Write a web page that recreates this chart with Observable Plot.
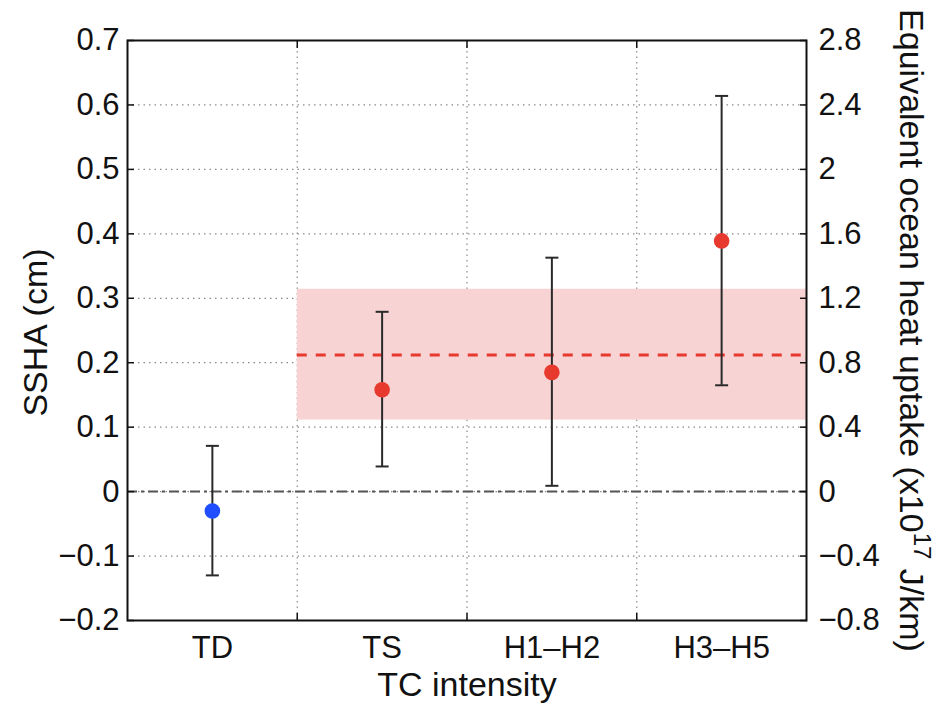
<!DOCTYPE html>
<html>
<head>
<meta charset="utf-8">
<script src="https://cdn.jsdelivr.net/npm/d3@7"></script>
<script src="https://cdn.jsdelivr.net/npm/@observablehq/plot@0.6"></script>
<style>
  body { margin: 0; background: #fff; }
  #chart svg { font-family: "Liberation Sans", Arial, Helvetica, sans-serif; }
</style>
</head>
<body>
<div id="chart"></div>
<script>
// TC intensity classes and their mean SSHA with error bounds (cm)
const categories = ["TD", "TS", "H1–H2", "H3–H5"];
const sshaMean = [-0.03, 0.158, 0.185, 0.389];
const sshaLow  = [-0.13, 0.039, 0.009, 0.165];
const sshaHigh = [0.071, 0.279, 0.363, 0.614];

// Mean over tropical storms and hurricanes, with its spread
const stormMean = 0.212;
const stormLow = 0.111;
const stormHigh = 0.314;

// Axis ticks: SSHA (left) and equivalent heat uptake (right, 4 x 10^17 J/km per cm)
const sshaTicks = [-0.2, -0.1, 0, 0.1, 0.2, 0.3, 0.4, 0.5, 0.6, 0.7];
const heatTicks = [-0.8, -0.4, 0, 0.4, 0.8, 1.2, 1.6, 2, 2.4, 2.8];
const heatPerCm = 4;

const xLabel = "TC intensity";
const yLabel = "SSHA (cm)";
const y2Main = "Equivalent ocean heat uptake (x10";
const y2Exp = "17";
const y2Unit = " J/km)";

const rows = categories.map((c, i) => ({
  category: c, pos: i + 1, mean: sshaMean[i], low: sshaLow[i], high: sshaHigh[i]
}));
const bounds = categories.slice(1).map((c, i) => i + 1.5);
const stormStart = categories.indexOf("TS") + 0.5;
const stormEnd = categories.length + 0.5;

const minus = s => s.replace("-", "\u2212");
const fmtCm = d => minus(Math.abs(d) < 1e-9 ? "0" : d.toFixed(1));
const fmtHeat = d => minus(String(Math.round(d * heatPerCm * 10) / 10));

const cap = { draw(ctx) { ctx.moveTo(-6.5, 0); ctx.lineTo(6.5, 0); } };

const blue = "#1f4dff", red = "#e8392f";
const tickFont = 31, labelFont = 34;

const plot = Plot.plot({
  width: 944,
  height: 703,
  marginLeft: 127,
  marginRight: 138,
  marginTop: 40,
  marginBottom: 83,
  x: { type: "linear", domain: [0.5, categories.length + 0.5] },
  y: { domain: [-0.2, 0.7] },
  style: { fontFamily: "'Liberation Sans', Arial, Helvetica, sans-serif", color: "#111", background: "#fff" },
  marks: [
    // dotted grid
    Plot.gridY(sshaTicks.slice(1, -1), { stroke: "#8a8a8a", strokeOpacity: 1, strokeWidth: 1.2, strokeDasharray: "1.5,4" }),
    Plot.gridX(bounds, { stroke: "#8a8a8a", strokeOpacity: 1, strokeWidth: 1.2, strokeDasharray: "1.5,4" }),
    // storm spread band and mean
    Plot.rect([stormMean], { x1: stormStart, x2: stormEnd, y1: stormLow, y2: stormHigh, fill: "#f7d3d3" }),
    Plot.ruleY([0], { stroke: "#555", strokeWidth: 2, strokeDasharray: "10,4,3,4" }),
    Plot.ruleY([stormMean], { x1: stormStart, x2: stormEnd, stroke: red, strokeWidth: 3, strokeDasharray: "10,9" }),
    // error bars
    Plot.ruleX(rows, { x: "pos", y1: "low", y2: "high", stroke: "#2a2a2a", strokeWidth: 2 }),
    Plot.dot(rows, { x: "pos", y: "low", symbol: cap, fill: "none", stroke: "#2a2a2a", strokeWidth: 2 }),
    Plot.dot(rows, { x: "pos", y: "high", symbol: cap, fill: "none", stroke: "#2a2a2a", strokeWidth: 2 }),
    // means
    Plot.dot(rows, { x: "pos", y: "mean", r: 7.8, fill: d => d.category === "TD" ? blue : red, stroke: "none" }),
    // frame and axes
    Plot.frame({ stroke: "#111", strokeWidth: 2 }),
    Plot.axisY(sshaTicks, { anchor: "left", tickSize: -7, tickPadding: 15, tickFormat: fmtCm, fontSize: tickFont, label: null, strokeWidth: 1.5 }),
    Plot.axisY(heatTicks.map(v => v / heatPerCm), { anchor: "right", tickSize: -7, tickPadding: 19, tickFormat: fmtHeat, fontSize: tickFont, label: null, strokeWidth: 1.5 }),
    Plot.axisX(bounds, { anchor: "bottom", tickSize: -7, tickFormat: () => "", label: null, strokeWidth: 1.5 }),
    Plot.axisX(bounds, { anchor: "top", tickSize: -7, tickFormat: () => "", label: null, strokeWidth: 1.5 }),
    Plot.axisX(rows.map(d => d.pos), { anchor: "bottom", tickSize: 0, tickPadding: 15, tickFormat: d => categories[d - 1], fontSize: tickFont, label: null }),
    // axis titles
    Plot.text([xLabel], { text: d => d, frameAnchor: "bottom", dy: 65, textAnchor: "middle", lineAnchor: "middle", fontSize: labelFont, fill: "#111" }),
    Plot.text([yLabel], { text: d => d, frameAnchor: "left", dx: -91, dy: 2, rotate: -90, textAnchor: "middle", lineAnchor: "middle", fontSize: labelFont, fill: "#111" }),
    Plot.text([y2Main + y2Exp + y2Unit], { text: d => d, frameAnchor: "right", dx: 104, rotate: 90, textAnchor: "middle", lineAnchor: "middle", fontSize: labelFont, fill: "#111" })
  ]
});

// typeset the exponent of the right-hand axis title as a superscript
d3.select(plot).selectAll("text")
  .filter(function () { return this.textContent === y2Main + y2Exp + y2Unit; })
  .each(function () {
    const t = d3.select(this);
    t.text(null);
    t.append("tspan").text(y2Main);
    t.append("tspan").attr("dy", -14).attr("font-size", 24).text(y2Exp);
    t.append("tspan").attr("dy", 14).text(y2Unit);
  });

document.getElementById("chart").appendChild(plot);
</script>
</body>
</html>
